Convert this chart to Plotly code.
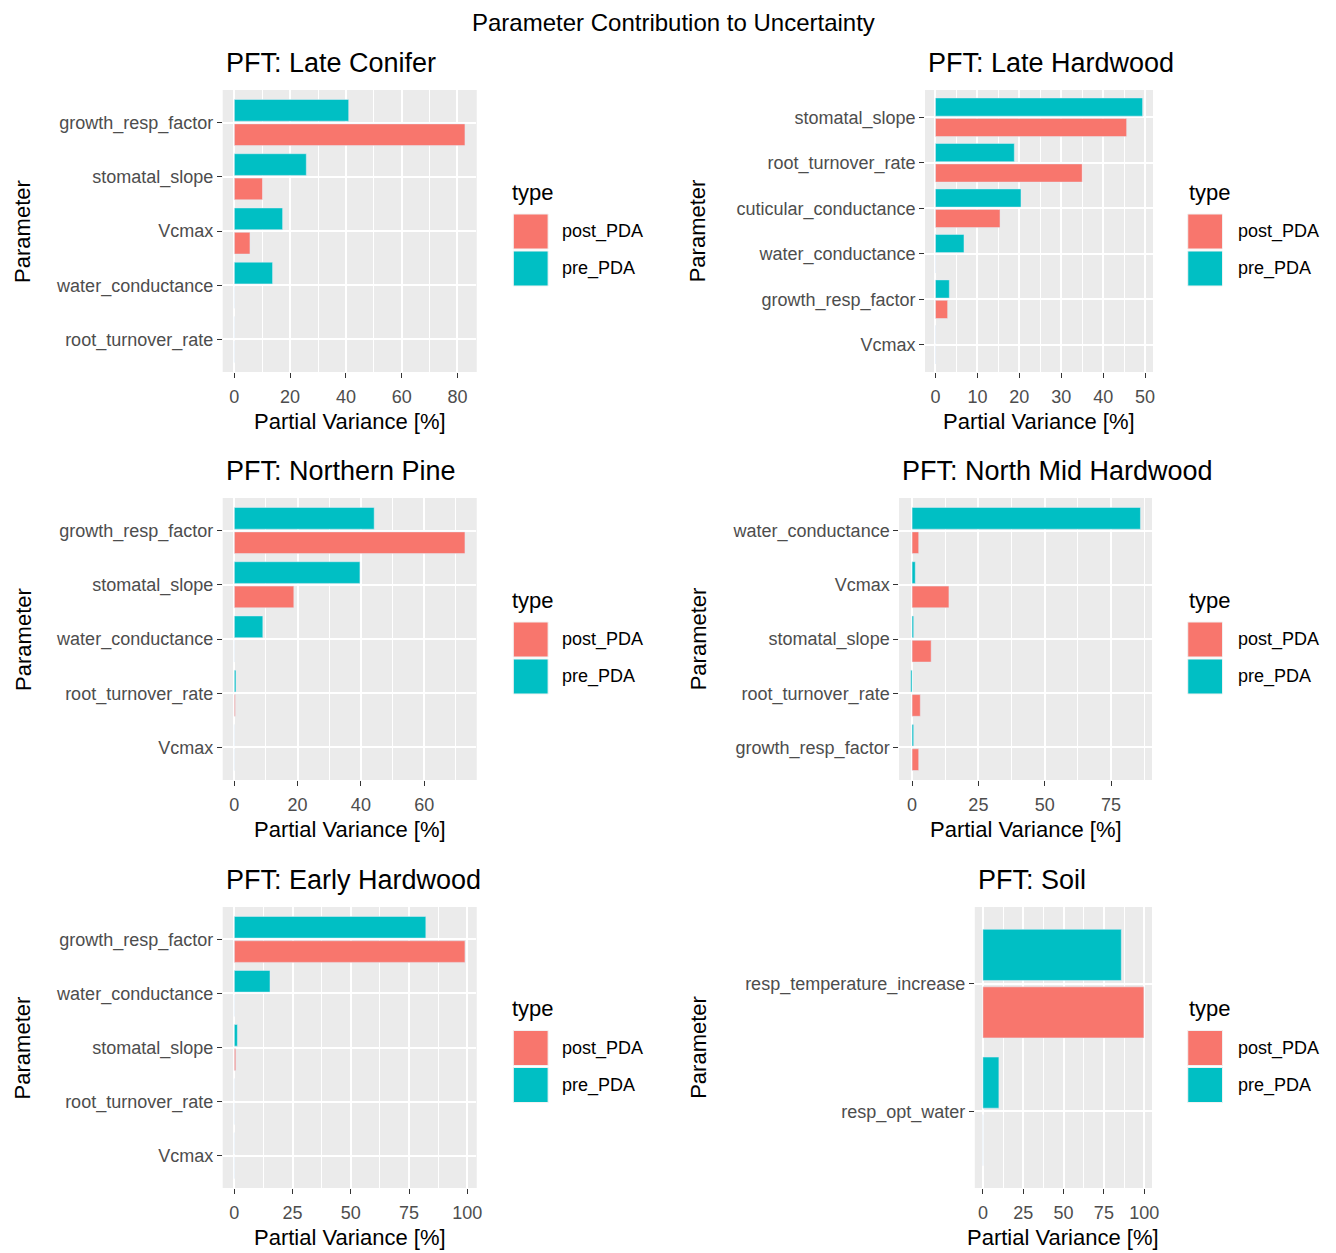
import plotly.graph_objects as go

# ---- data: partial variance [%] per parameter, listed top to bottom ----
late_conifer_params = ["growth_resp_factor", "stomatal_slope", "Vcmax",
                       "water_conductance", "root_turnover_rate"]
late_conifer_pre = [41.0, 25.8, 17.3, 13.7, 0.0]
late_conifer_post = [82.7, 10.1, 5.6, 0.0, 0.0]

late_hardwood_params = ["stomatal_slope", "root_turnover_rate", "cuticular_conductance",
                        "water_conductance", "growth_resp_factor", "Vcmax"]
late_hardwood_pre = [49.4, 18.8, 20.4, 6.8, 3.3, 0.0]
late_hardwood_post = [45.6, 35.0, 15.4, 0.0, 2.9, 0.0]

northern_pine_params = ["growth_resp_factor", "stomatal_slope", "water_conductance",
                        "root_turnover_rate", "Vcmax"]
northern_pine_pre = [44.2, 39.7, 9.0, 0.5, 0.0]
northern_pine_post = [72.9, 18.8, 0.0, 0.3, 0.0]

north_mid_params = ["water_conductance", "Vcmax", "stomatal_slope",
                    "root_turnover_rate", "growth_resp_factor"]
north_mid_pre = [86.1, 1.2, 0.6, -0.5, 0.6]
north_mid_post = [2.5, 13.9, 7.2, 3.1, 2.5]

early_hardwood_params = ["growth_resp_factor", "water_conductance", "stomatal_slope",
                         "root_turnover_rate", "Vcmax"]
early_hardwood_pre = [82.2, 15.3, 1.3, 0.0, 0.0]
early_hardwood_post = [99.0, 0.0, 0.6, 0.0, 0.0]

soil_params = ["resp_temperature_increase", "resp_opt_water"]
soil_pre = [85.8, 9.9]
soil_post = [99.8, 0.0]

panel_titles = ["PFT: Late Conifer", "PFT: Late Hardwood", "PFT: Northern Pine",
                "PFT: North Mid Hardwood", "PFT: Early Hardwood", "PFT: Soil"]
x_dticks = [20, 10, 20, 25, 25, 25]
type_labels = ["post_PDA", "pre_PDA"]

panels = [
    (late_conifer_params, late_conifer_pre, late_conifer_post),
    (late_hardwood_params, late_hardwood_pre, late_hardwood_post),
    (northern_pine_params, northern_pine_pre, northern_pine_post),
    (north_mid_params, north_mid_pre, north_mid_post),
    (early_hardwood_params, early_hardwood_pre, early_hardwood_post),
    (soil_params, soil_pre, soil_post),
]

# ---- layout geometry (pixels of the 1336 x 1253 page) ----
W, H = 1336, 1253
FONT = "Liberation Sans, Arial, sans-serif"
POST_COLOR = "#F8766D"
PRE_COLOR = "#00BFC4"
PANEL_BG = "#EBEBEB"
TICK_GREY = "#4D4D4D"

# panel boxes: left, right, top, bottom
boxes = [(224, 479, 90, 372), (930, 1159, 90, 372),
         (224, 479, 498, 780), (904, 1158, 498, 780),
         (224, 479, 907, 1188), (980, 1158, 907, 1188)]
ylab_x = [23, 702]
legend_x = [(513, 516, 551, 563), (1193, 1194, 1229, 1243)]


def fx(px):
    return px / W


def fy(py):
    return 1 - py / H


fig = go.Figure()
annotations = []
shapes = []

for i, ((params, pre, post), box) in enumerate(zip(panels, boxes)):
    n = i + 1
    xa = "x" if n == 1 else f"x{n}"
    ya = "y" if n == 1 else f"y{n}"
    left, right, top, bottom = box

    fig.add_trace(go.Bar(y=params, x=post, orientation="h", name=type_labels[0],
                         marker_color=POST_COLOR, xaxis=xa, yaxis=ya, showlegend=False))
    fig.add_trace(go.Bar(y=params, x=pre, orientation="h", name=type_labels[1],
                         marker_color=PRE_COLOR, xaxis=xa, yaxis=ya, showlegend=False))

    lo = min(0, min(pre), min(post))
    hi = max(0, max(pre), max(post))
    pad = 0.05 * (hi - lo)
    ncat = len(params)

    axis_common = dict(
        showline=False, zeroline=False, ticks="outside", ticklen=5, tickwidth=1.2,
        tickcolor="#333333", tickfont=dict(family=FONT, size=18, color=TICK_GREY),
        gridcolor="white", showgrid=True,
    )
    fig.update_layout({
        ("xaxis" if n == 1 else f"xaxis{n}"): dict(
            domain=[fx(left), fx(right)], anchor=ya, range=[lo - pad, hi + pad],
            dtick=x_dticks[i], tick0=0, gridwidth=2, ticklabelstandoff=3,
            minor=dict(dtick=x_dticks[i] / 2, showgrid=True, gridcolor="white",
                       gridwidth=1, ticks=""),
            **axis_common),
        ("yaxis" if n == 1 else f"yaxis{n}"): dict(
            domain=[fy(bottom), fy(top)], anchor=xa, type="category",
            categoryorder="array", categoryarray=list(reversed(params)),
            range=[-0.6, ncat - 0.4], gridwidth=2, **axis_common),
    })

    # panel background
    shapes.append(dict(type="rect", xref="paper", yref="paper", layer="below",
                       x0=fx(left), x1=fx(right), y0=fy(bottom), y1=fy(top),
                       fillcolor=PANEL_BG, line=dict(width=0)))

    # panel title
    annotations.append(dict(text=panel_titles[i], xref="paper", yref="paper",
                            x=fx(left + 1), y=fy(top - 27), xanchor="left", yanchor="middle",
                            showarrow=False, font=dict(family=FONT, size=27, color="black")))
    # axis titles
    annotations.append(dict(text="Partial Variance [%]", xref="paper", yref="paper",
                            x=fx((left + right) / 2), y=fy(bottom + 49),
                            xanchor="center", yanchor="middle", showarrow=False,
                            font=dict(family=FONT, size=22, color="black")))
    col = 0 if left < 700 else 1
    pc = (top + bottom) / 2
    annotations.append(dict(text="Parameter", xref="paper", yref="paper",
                            x=fx(ylab_x[col]), y=fy(pc), textangle=-90,
                            xanchor="center", yanchor="middle", showarrow=False,
                            font=dict(family=FONT, size=22, color="black")))

    # legend for the panel
    tx, kx0, kx1, lx = legend_x[col]
    annotations.append(dict(text="type", xref="paper", yref="paper",
                            x=fx(tx), y=fy(pc - 39), xanchor="left", yanchor="middle",
                            showarrow=False, font=dict(family=FONT, size=22, color="black")))
    for j, (lab, colr) in enumerate(zip(type_labels, [POST_COLOR, PRE_COLOR])):
        k0 = pc - 17 + j * 37
        shapes.append(dict(type="rect", xref="paper", yref="paper",
                           x0=fx(kx0), x1=fx(kx1), y0=fy(k0 + 35), y1=fy(k0),
                           fillcolor=colr, line=dict(color="#F2F2F2", width=1)))
        annotations.append(dict(text=lab, xref="paper", yref="paper",
                                x=fx(lx), y=fy(k0 + 17.5), xanchor="left", yanchor="middle",
                                showarrow=False,
                                font=dict(family=FONT, size=18, color="black")))

annotations.append(dict(text="Parameter Contribution to Uncertainty", xref="paper",
                        yref="paper", x=fx(677), y=fy(22), xanchor="center",
                        yanchor="middle", showarrow=False,
                        font=dict(family=FONT, size=24, color="black")))

fig.update_layout(
    width=W, height=H, margin=dict(l=0, r=0, t=0, b=0),
    paper_bgcolor="white", plot_bgcolor=PANEL_BG,
    barmode="group", bargap=0.1, bargroupgap=0.111,
    showlegend=False, shapes=shapes, annotations=annotations,
    font=dict(family=FONT),
)

fig.write_html("out.html")
